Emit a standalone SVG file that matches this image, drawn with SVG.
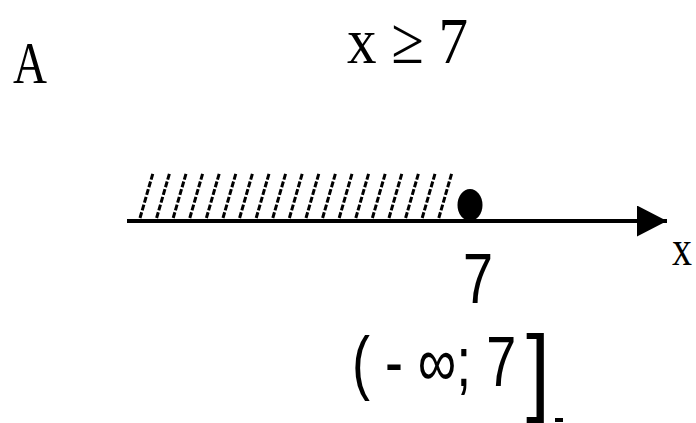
<svg xmlns="http://www.w3.org/2000/svg" width="696" height="423" viewBox="0 0 696 423">
<style>
.serif{font-family:"Liberation Serif","Times New Roman",serif;fill:#000}
.sans{font-family:"Liberation Sans",Arial,sans-serif;fill:#000}
.hatch line{stroke:#000;stroke-width:3;stroke-dasharray:6 2}
</style>
<defs>
<marker id="arr" viewBox="0 0 30 31" refX="30" refY="15.5" markerWidth="30" markerHeight="31" markerUnits="userSpaceOnUse" orient="auto">
<path d="M0,0 L30,15.5 L0,31 Z" fill="#000"/>
</marker>
</defs>
<rect width="696" height="423" fill="#fff"/>
<g id="label-A"><text class="serif" x="13" y="83" font-size="60" textLength="34" lengthAdjust="spacingAndGlyphs">A</text></g>
<g id="title"><text class="serif" x="347" y="63" font-size="66" textLength="121" lengthAdjust="spacingAndGlyphs">x ≥ 7</text></g>
<g id="connectors">
<line x1="127" y1="221" x2="667" y2="221" stroke="#000" stroke-width="4" marker-end="url(#arr)"/>
</g>
<g id="hatching" class="hatch">
<line x1="140" y1="218" x2="153" y2="173"/>
<line x1="156.6" y1="218" x2="169.6" y2="173"/>
<line x1="173.2" y1="218" x2="186.2" y2="173"/>
<line x1="189.8" y1="218" x2="202.8" y2="173"/>
<line x1="206.4" y1="218" x2="219.4" y2="173"/>
<line x1="223" y1="218" x2="236" y2="173"/>
<line x1="239.6" y1="218" x2="252.6" y2="173"/>
<line x1="256.2" y1="218" x2="269.2" y2="173"/>
<line x1="272.8" y1="218" x2="285.8" y2="173"/>
<line x1="289.4" y1="218" x2="302.4" y2="173"/>
<line x1="306" y1="218" x2="319" y2="173"/>
<line x1="322.6" y1="218" x2="335.6" y2="173"/>
<line x1="339.2" y1="218" x2="352.2" y2="173"/>
<line x1="355.8" y1="218" x2="368.8" y2="173"/>
<line x1="372.4" y1="218" x2="385.4" y2="173"/>
<line x1="389" y1="218" x2="402" y2="173"/>
<line x1="405.6" y1="218" x2="418.6" y2="173"/>
<line x1="422.2" y1="218" x2="435.2" y2="173"/>
<line x1="438.8" y1="218" x2="451.8" y2="173"/>
</g>
<g id="point-7"><ellipse cx="470" cy="205" rx="12.5" ry="16" fill="#000"/></g>
<g id="tick-label"><text class="sans" x="463" y="303" font-size="70" textLength="30" lengthAdjust="spacingAndGlyphs">7</text></g>
<g id="axis-label"><text class="serif" x="672" y="265" font-size="50" textLength="20" lengthAdjust="spacingAndGlyphs">x</text></g>
<g id="interval">
<text class="sans" transform="translate(352,386) scale(0.77,1)" font-size="70">( - ∞; 7</text>
<text class="sans" x="526" y="403" font-size="97" textLength="24" lengthAdjust="spacingAndGlyphs">]</text>
<rect x="555" y="418" width="8" height="4" fill="#000"/>
</g>
</svg>
